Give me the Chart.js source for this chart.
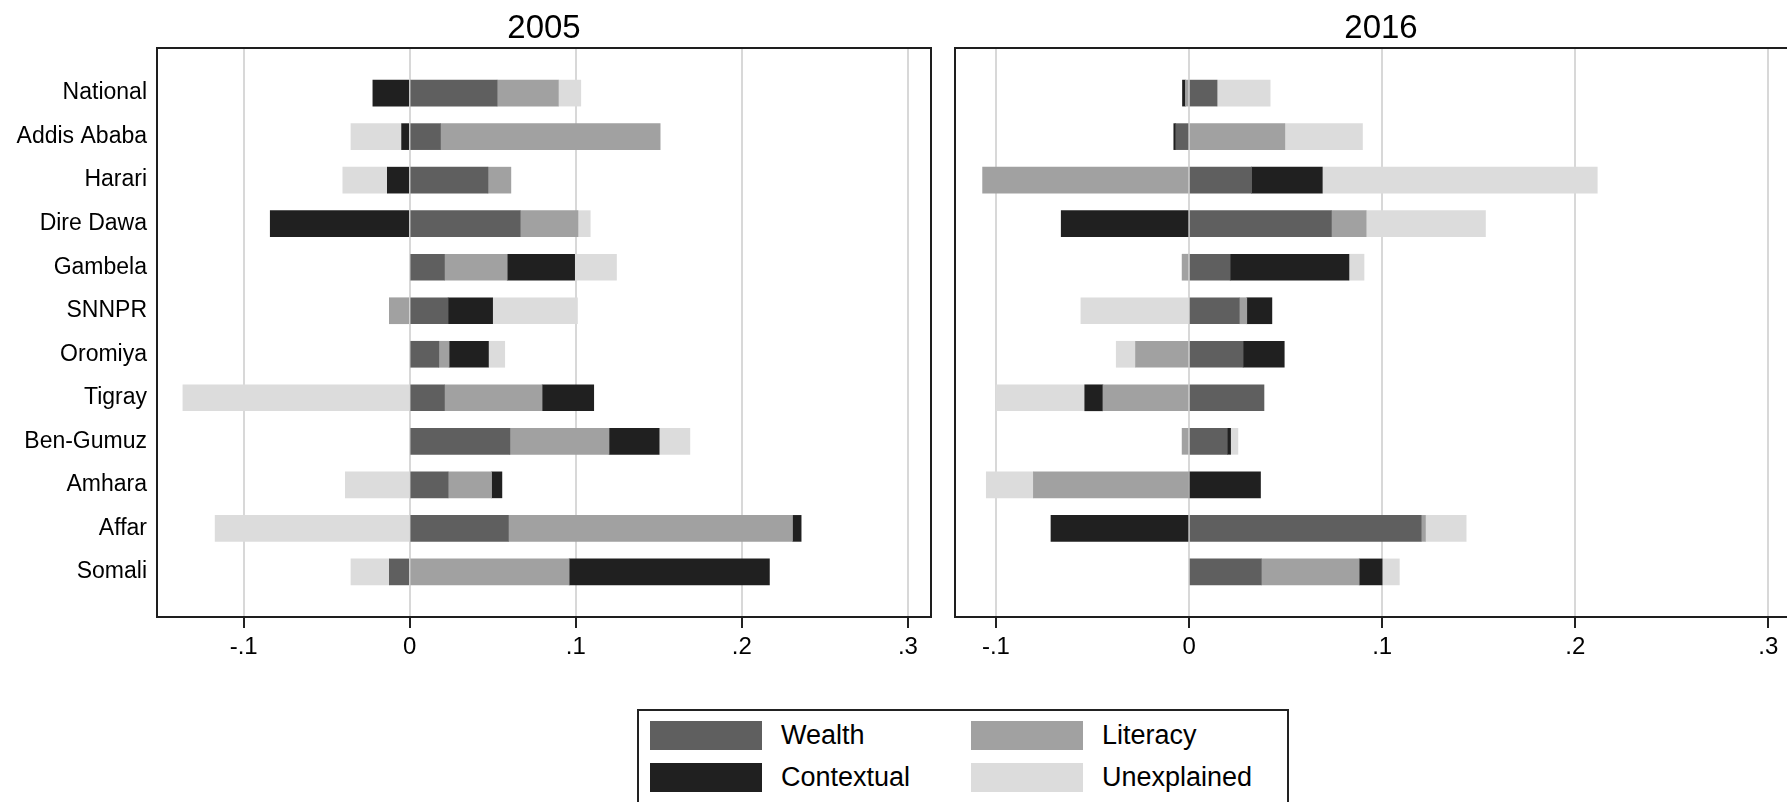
<!DOCTYPE html>
<html lang="en">
<head>
<meta charset="UTF-8">
<title>Decomposition by region, 2005 and 2016</title>
<script src="https://cdn.jsdelivr.net/npm/chart.js"></script>
<style>
  body { margin: 0; background: #fff; width: 1787px; height: 802px; overflow: hidden; position: relative;
         font-family: "Liberation Sans", Arial, sans-serif; }
  #c2005 { position: absolute; left: 0; top: 0; }
  #c2016 { position: absolute; left: 945px; top: 0; }
  #legend { position: absolute; left: 637px; top: 709px; width: 648px; height: 130px; border: 2px solid #222; }
  .sw { position: absolute; width: 112px; height: 29px; }
  .lab { position: absolute; font-size: 27px; color: #000; line-height: 29px; }
</style>
</head>
<body>
<canvas id="c2005" width="945" height="690"></canvas>
<canvas id="c2016" width="876" height="690"></canvas>
<div id="legend"></div>

<script>
// regions, top to bottom
const regions = ["National", "Addis Ababa", "Harari", "Dire Dawa", "Gambela", "SNNPR",
                 "Oromiya", "Tigray", "Ben-Gumuz", "Amhara", "Affar", "Somali"];

const seriesNames = ["Wealth", "Literacy", "Contextual", "Unexplained"];
const seriesColors = ["#5f5f5f", "#a1a1a1", "#202020", "#dcdcdc"];

// 2005
const wealth05      = [0.0526, 0.0185, 0.0471, 0.0665, 0.0209, 0.0231, 0.0175, 0.0209, 0.0603, 0.0231, 0.0594, -0.0123];
const literacy05    = [0.0369, 0.1323, 0.0138, 0.0348, 0.0378, -0.0123, 0.0062, 0.0588, 0.0597, 0.0262, 0.1711, 0.0960];
const contextual05  = [-0.0222, -0.0049, -0.0135, -0.0840, 0.0406, 0.0268, 0.0237, 0.0311, 0.0302, 0.0062, 0.0052, 0.1206];
const unexplained05 = [0.0135, -0.0305, -0.0268, 0.0074, 0.0252, 0.0511, 0.0098, -0.1366, 0.0185, -0.0388, -0.1172, -0.0231];

// 2016
const wealth16      = [0.0145, -0.0069, 0.0324, 0.0737, 0.0213, 0.0260, 0.0280, 0.0388, 0.0198, 0.0000, 0.1202, 0.0374];
const literacy16    = [-0.0019, 0.0496, -0.1069, 0.0180, -0.0036, 0.0039, -0.0277, -0.0446, -0.0036, -0.0806, 0.0022, 0.0507];
const contextual16  = [-0.0015, -0.0010, 0.0366, -0.0662, 0.0615, 0.0130, 0.0213, -0.0094, 0.0017, 0.0370, -0.0715, 0.0119];
const unexplained16 = [0.0275, 0.0402, 0.1424, 0.0618, 0.0078, -0.0560, -0.0100, -0.0460, 0.0038, -0.0244, 0.0211, 0.0089];

const xTicks = [-0.1, 0, 0.1, 0.2, 0.3];
const xTickLabels = ["-.1", "0", ".1", ".2", ".3"];

const FONT = '"Liberation Sans", Arial, sans-serif';

// frame round the plot region + panel title
const panelBox = {
    id: 'panelBox',
    afterDraw(chart, args, opts) {
        const a = chart.chartArea;
        const ctx = chart.ctx;
        ctx.save();
        ctx.strokeStyle = '#1e1e1e';
        ctx.lineWidth = 2;
        ctx.strokeRect(a.left, a.top, a.right - a.left, a.bottom - a.top);
        ctx.fillStyle = '#000';
        ctx.font = '33px ' + FONT;
        ctx.textAlign = 'center';
        ctx.textBaseline = 'middle';
        ctx.fillText(opts.title, (a.left + a.right) / 2, 29);
        ctx.restore();
    }
};

function makePanel(id, title, series, xmin, xmax, showLabels, padLeft) {
    const datasets = series.map((vals, k) => ({
        label: seriesNames[k],
        data: vals.map((v, i) => ({ x: v, y: i })),
        backgroundColor: seriesColors[k],
        borderWidth: 0,
        barThickness: 26
    }));

    return new Chart(document.getElementById(id), {
        type: 'bar',
        data: { datasets: datasets },
        options: {
            indexAxis: 'y',
            responsive: false,
            animation: false,
            layout: { padding: { top: 48, right: 14, left: padLeft, bottom: 0 } },
            plugins: {
                legend: { display: false },
                tooltip: { enabled: false },
                panelBox: { title: title }
            },
            scales: {
                x: {
                    type: 'linear',
                    stacked: true,
                    min: xmin,
                    max: xmax,
                    afterBuildTicks: s => { s.ticks = xTicks.map(v => ({ value: v })); },
                    afterFit: s => { s.height = 73; },
                    border: { display: false },
                    grid: { color: '#d8d8d8', lineWidth: 2, drawTicks: true, tickLength: 11,
                            tickColor: '#222', tickWidth: 2 },
                    ticks: {
                        padding: 5,
                        color: '#000',
                        font: { size: 24, family: FONT },
                        callback: (v, i) => xTickLabels[i]
                    }
                },
                y: {
                    type: 'linear',
                    stacked: true,
                    reverse: true,
                    offset: false,
                    min: -1.036,
                    max: 12.036,
                    display: showLabels,
                    afterBuildTicks: s => { s.ticks = regions.map((r, i) => ({ value: i })); },
                    afterFit: s => { s.width = showLabels ? 157 : 0; },
                    border: { display: false },
                    grid: { display: false, drawTicks: false },
                    ticks: {
                        padding: 10,
                        color: '#000',
                        font: { size: 23, family: FONT },
                        callback: v => regions[v]
                    }
                }
            }
        },
        plugins: [panelBox]
    });
}

makePanel('c2005', '2005', [wealth05, literacy05, contextual05, unexplained05], -0.1522, 0.3139, true, 0);
makePanel('c2016', '2016', [wealth16, literacy16, contextual16, unexplained16], -0.1212, 0.3200, false, 10);

// legend box, two columns
const legend = document.getElementById('legend');
const legendPos = [[11, 10], [332, 10], [11, 52], [332, 52]];
seriesNames.forEach((name, k) => {
    const [lx, ly] = legendPos[k];
    const sw = document.createElement('div');
    sw.className = 'sw';
    sw.style.left = lx + 'px';
    sw.style.top = ly + 'px';
    sw.style.background = seriesColors[k];
    legend.appendChild(sw);
    const lab = document.createElement('div');
    lab.className = 'lab';
    lab.style.left = (lx + 131) + 'px';
    lab.style.top = ly + 'px';
    lab.textContent = name;
    legend.appendChild(lab);
});
</script>
</body>
</html>
